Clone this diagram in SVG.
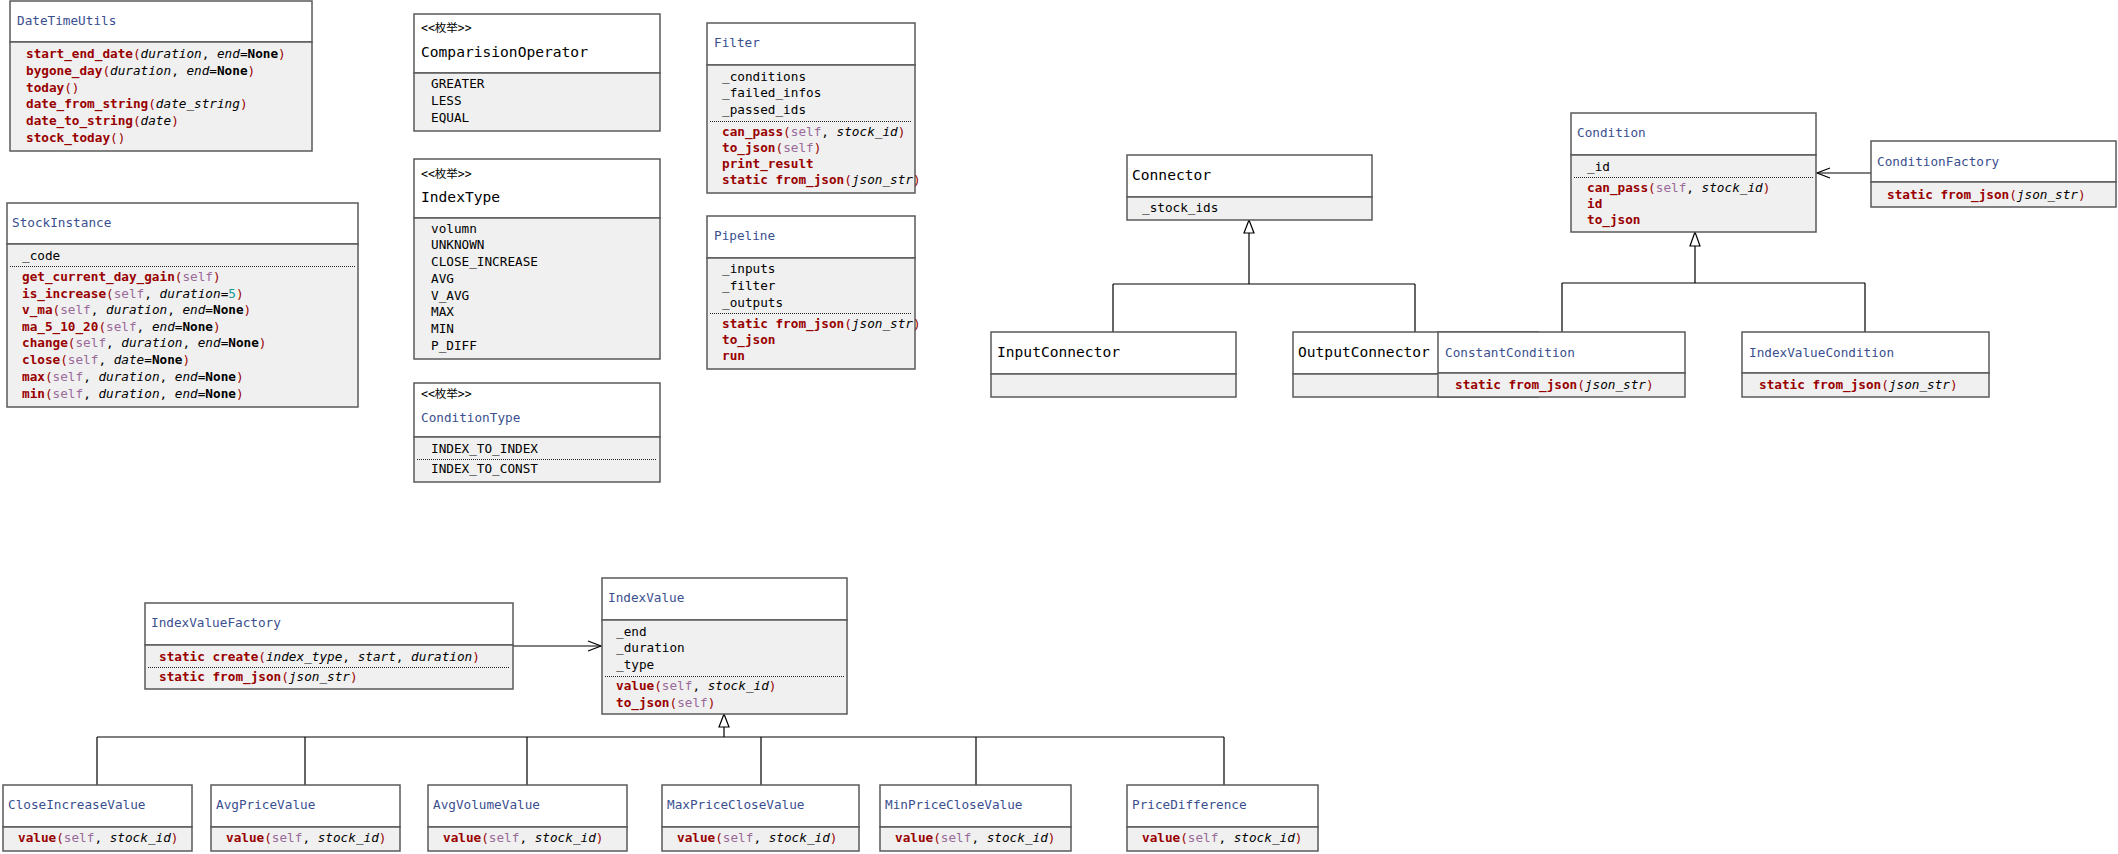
<svg xmlns="http://www.w3.org/2000/svg" width="2118" height="854" viewBox="0 0 2118 854">
<defs>
<style>
.h{fill:#fff;stroke:#5a5a5a;stroke-width:1.5}
.b{fill:#f0f0f0;stroke:#5a5a5a;stroke-width:1.5}
.d{stroke:#222;stroke-width:1;stroke-dasharray:1 1;fill:none}
text{font-family:"DejaVu Sans Mono","Liberation Mono","Noto Sans CJK SC",monospace;font-size:12.7px;fill:#000}
.ti{fill:#3a4f8f}
.tb{font-size:14.6px}
.st{font-size:11.5px}
.m{fill:#990000;font-weight:bold}
.p{fill:#990000}
.s{fill:#9a6a9a}
.i{font-style:italic}
.k{font-weight:bold}
.n{fill:#119999}
.c{fill:none;stroke:#000;stroke-width:1.2}
.tri{fill:#fff;stroke:#000;stroke-width:1.2}
</style>
<marker id="open" markerWidth="16" markerHeight="12" refX="14" refY="6" orient="auto" markerUnits="userSpaceOnUse">
<path d="M1,1 L14,6 L1,11" fill="none" stroke="#000" stroke-width="1.2"/>
</marker>
</defs>
<rect width="2118" height="854" fill="#fff"/>

<g id="connectors">
<path class="c" d="M1249,233 V284 M1113,284 H1415 M1113,284 V332 M1415,284 V332"/>
<path class="tri" d="M1249,220 L1244,233 L1254,233 Z"/>
<path class="c" d="M1695,246 V283 M1562,283 H1865 M1562,283 V332 M1865,283 V332"/>
<path class="tri" d="M1695,232 L1690,246 L1700,246 Z"/>
<path class="c" d="M1871,173 H1817" marker-end="url(#open)"/>
<path class="c" d="M513,646 H601" marker-end="url(#open)"/>
<path class="c" d="M724,727 V737 M97,737 H1224 M97,737 V785 M305,737 V785 M527,737 V785 M761,737 V785 M976,737 V785 M1224,737 V785"/>
<path class="tri" d="M724,714 L719,727 L729,727 Z"/>
</g>

<g id="DateTimeUtils">
<rect class="h" x="10" y="1" width="302" height="41"/>
<rect class="b" x="10" y="42" width="302" height="109"/>
<text class="ti" x="17" y="25">DateTimeUtils</text>
<text x="26" y="58"><tspan class="m">start_end_date</tspan><tspan class="p">(</tspan><tspan class="i">duration</tspan>, <tspan class="i">end</tspan>=<tspan class="k">None</tspan><tspan class="p">)</tspan></text>
<text x="26" y="75"><tspan class="m">bygone_day</tspan><tspan class="p">(</tspan><tspan class="i">duration</tspan>, <tspan class="i">end</tspan>=<tspan class="k">None</tspan><tspan class="p">)</tspan></text>
<text x="26" y="92"><tspan class="m">today</tspan><tspan class="p">()</tspan></text>
<text x="26" y="108"><tspan class="m">date_from_string</tspan><tspan class="p">(</tspan><tspan class="i">date_string</tspan><tspan class="p">)</tspan></text>
<text x="26" y="125"><tspan class="m">date_to_string</tspan><tspan class="p">(</tspan><tspan class="i">date</tspan><tspan class="p">)</tspan></text>
<text x="26" y="142"><tspan class="m">stock_today</tspan><tspan class="p">()</tspan></text>
</g>

<g id="StockInstance">
<rect class="h" x="7" y="203" width="351" height="41"/>
<rect class="b" x="7" y="244" width="351" height="163"/>
<text class="ti" x="12" y="227">StockInstance</text>
<text x="22" y="260">_code</text>
<line class="d" x1="10" y1="266.5" x2="355" y2="266.5"/>
<text x="22" y="281"><tspan class="m">get_current_day_gain</tspan><tspan class="p">(</tspan><tspan class="s">self</tspan><tspan class="p">)</tspan></text>
<text x="22" y="298"><tspan class="m">is_increase</tspan><tspan class="p">(</tspan><tspan class="s">self</tspan>, <tspan class="i">duration</tspan>=<tspan class="n">5</tspan><tspan class="p">)</tspan></text>
<text x="22" y="314"><tspan class="m">v_ma</tspan><tspan class="p">(</tspan><tspan class="s">self</tspan>, <tspan class="i">duration</tspan>, <tspan class="i">end</tspan>=<tspan class="k">None</tspan><tspan class="p">)</tspan></text>
<text x="22" y="331"><tspan class="m">ma_5_10_20</tspan><tspan class="p">(</tspan><tspan class="s">self</tspan>, <tspan class="i">end</tspan>=<tspan class="k">None</tspan><tspan class="p">)</tspan></text>
<text x="22" y="347"><tspan class="m">change</tspan><tspan class="p">(</tspan><tspan class="s">self</tspan>, <tspan class="i">duration</tspan>, <tspan class="i">end</tspan>=<tspan class="k">None</tspan><tspan class="p">)</tspan></text>
<text x="22" y="364"><tspan class="m">close</tspan><tspan class="p">(</tspan><tspan class="s">self</tspan>, <tspan class="i">date</tspan>=<tspan class="k">None</tspan><tspan class="p">)</tspan></text>
<text x="22" y="381"><tspan class="m">max</tspan><tspan class="p">(</tspan><tspan class="s">self</tspan>, <tspan class="i">duration</tspan>, <tspan class="i">end</tspan>=<tspan class="k">None</tspan><tspan class="p">)</tspan></text>
<text x="22" y="398"><tspan class="m">min</tspan><tspan class="p">(</tspan><tspan class="s">self</tspan>, <tspan class="i">duration</tspan>, <tspan class="i">end</tspan>=<tspan class="k">None</tspan><tspan class="p">)</tspan></text>
</g>

<g id="ComparisionOperator">
<rect class="h" x="414" y="14" width="246" height="59"/>
<rect class="b" x="414" y="73" width="246" height="58"/>
<text class="st" x="421" y="32">&lt;&lt;枚举&gt;&gt;</text>
<text class="tb" x="421" y="57">ComparisionOperator</text>
<text x="431" y="88">GREATER</text>
<text x="431" y="105">LESS</text>
<text x="431" y="122">EQUAL</text>
</g>

<g id="IndexType">
<rect class="h" x="414" y="159" width="246" height="59"/>
<rect class="b" x="414" y="218" width="246" height="141"/>
<text class="st" x="421" y="178">&lt;&lt;枚举&gt;&gt;</text>
<text class="tb" x="421" y="202">IndexType</text>
<text x="431" y="233">volumn</text>
<text x="431" y="249">UNKNOWN</text>
<text x="431" y="266">CLOSE_INCREASE</text>
<text x="431" y="283">AVG</text>
<text x="431" y="300">V_AVG</text>
<text x="431" y="316">MAX</text>
<text x="431" y="333">MIN</text>
<text x="431" y="350">P_DIFF</text>
</g>

<g id="ConditionType">
<rect class="h" x="414" y="383" width="246" height="54"/>
<rect class="b" x="414" y="437" width="246" height="45"/>
<text class="st" x="421" y="398">&lt;&lt;枚举&gt;&gt;</text>
<text class="ti" x="421" y="422">ConditionType</text>
<text x="431" y="453">INDEX_TO_INDEX</text>
<line class="d" x1="417" y1="459.5" x2="657" y2="459.5"/>
<text x="431" y="473">INDEX_TO_CONST</text>
</g>

<g id="Filter">
<rect class="h" x="707" y="23" width="208" height="42"/>
<rect class="b" x="707" y="65" width="208" height="128"/>
<text class="ti" x="714" y="47">Filter</text>
<text x="722" y="81">_conditions</text>
<text x="722" y="97">_failed_infos</text>
<text x="722" y="114">_passed_ids</text>
<line class="d" x1="710" y1="121.5" x2="912" y2="121.5"/>
<text x="722" y="136"><tspan class="m">can_pass</tspan><tspan class="p">(</tspan><tspan class="s">self</tspan>, <tspan class="i">stock_id</tspan><tspan class="p">)</tspan></text>
<text x="722" y="152"><tspan class="m">to_json</tspan><tspan class="p">(</tspan><tspan class="s">self</tspan><tspan class="p">)</tspan></text>
<text x="722" y="168"><tspan class="m">print_result</tspan></text>
<text x="722" y="184"><tspan class="m">static from_json</tspan><tspan class="p">(</tspan><tspan class="i">json_str</tspan><tspan class="p">)</tspan></text>
</g>

<g id="Pipeline">
<rect class="h" x="707" y="216" width="208" height="42"/>
<rect class="b" x="707" y="258" width="208" height="111"/>
<text class="ti" x="714" y="240">Pipeline</text>
<text x="722" y="273">_inputs</text>
<text x="722" y="290">_filter</text>
<text x="722" y="307">_outputs</text>
<line class="d" x1="710" y1="313.5" x2="912" y2="313.5"/>
<text x="722" y="328"><tspan class="m">static from_json</tspan><tspan class="p">(</tspan><tspan class="i">json_str</tspan><tspan class="p">)</tspan></text>
<text x="722" y="344"><tspan class="m">to_json</tspan></text>
<text x="722" y="360"><tspan class="m">run</tspan></text>
</g>

<g id="Connector">
<rect class="h" x="1127" y="155" width="245" height="42"/>
<rect class="b" x="1127" y="197" width="245" height="23"/>
<text class="tb" x="1132" y="180">Connector</text>
<text x="1142" y="212">_stock_ids</text>
</g>

<g id="InputConnector">
<rect class="h" x="991" y="332" width="245" height="42"/>
<rect class="b" x="991" y="374" width="245" height="23"/>
<text class="tb" x="997" y="357">InputConnector</text>
</g>

<g id="OutputConnector">
<rect class="h" x="1293" y="332" width="245" height="42"/>
<rect class="b" x="1293" y="374" width="245" height="23"/>
<text class="tb" x="1298" y="357">OutputConnector</text>
</g>

<g id="Condition">
<rect class="h" x="1571" y="113" width="245" height="42"/>
<rect class="b" x="1571" y="155" width="245" height="77"/>
<text class="ti" x="1577" y="137">Condition</text>
<text x="1587" y="171">_id</text>
<line class="d" x1="1574" y1="177.5" x2="1813" y2="177.5"/>
<text x="1587" y="192"><tspan class="m">can_pass</tspan><tspan class="p">(</tspan><tspan class="s">self</tspan>, <tspan class="i">stock_id</tspan><tspan class="p">)</tspan></text>
<text x="1587" y="208"><tspan class="m">id</tspan></text>
<text x="1587" y="224"><tspan class="m">to_json</tspan></text>
</g>

<g id="ConditionFactory">
<rect class="h" x="1871" y="141" width="245" height="41"/>
<rect class="b" x="1871" y="182" width="245" height="25"/>
<text class="ti" x="1877" y="166">ConditionFactory</text>
<text x="1887" y="199"><tspan class="m">static from_json</tspan><tspan class="p">(</tspan><tspan class="i">json_str</tspan><tspan class="p">)</tspan></text>
</g>

<g id="ConstantCondition">
<rect class="h" x="1438" y="332" width="247" height="41"/>
<rect class="b" x="1438" y="373" width="247" height="24"/>
<text class="ti" x="1445" y="357">ConstantCondition</text>
<text x="1455" y="389"><tspan class="m">static from_json</tspan><tspan class="p">(</tspan><tspan class="i">json_str</tspan><tspan class="p">)</tspan></text>
</g>

<g id="IndexValueCondition">
<rect class="h" x="1742" y="332" width="247" height="41"/>
<rect class="b" x="1742" y="373" width="247" height="24"/>
<text class="ti" x="1749" y="357">IndexValueCondition</text>
<text x="1759" y="389"><tspan class="m">static from_json</tspan><tspan class="p">(</tspan><tspan class="i">json_str</tspan><tspan class="p">)</tspan></text>
</g>

<g id="IndexValueFactory">
<rect class="h" x="145" y="603" width="368" height="42"/>
<rect class="b" x="145" y="645" width="368" height="44"/>
<text class="ti" x="151" y="627">IndexValueFactory</text>
<text x="159" y="661"><tspan class="m">static create</tspan><tspan class="p">(</tspan><tspan class="i">index_type</tspan>, <tspan class="i">start</tspan>, <tspan class="i">duration</tspan><tspan class="p">)</tspan></text>
<line class="d" x1="148" y1="667.5" x2="510" y2="667.5"/>
<text x="159" y="681"><tspan class="m">static from_json</tspan><tspan class="p">(</tspan><tspan class="i">json_str</tspan><tspan class="p">)</tspan></text>
</g>

<g id="IndexValue">
<rect class="h" x="602" y="578" width="245" height="42"/>
<rect class="b" x="602" y="620" width="245" height="94"/>
<text class="ti" x="608" y="602">IndexValue</text>
<text x="616" y="636">_end</text>
<text x="616" y="652">_duration</text>
<text x="616" y="669">_type</text>
<line class="d" x1="605" y1="676.5" x2="844" y2="676.5"/>
<text x="616" y="690"><tspan class="m">value</tspan><tspan class="p">(</tspan><tspan class="s">self</tspan>, <tspan class="i">stock_id</tspan><tspan class="p">)</tspan></text>
<text x="616" y="707"><tspan class="m">to_json</tspan><tspan class="p">(</tspan><tspan class="s">self</tspan><tspan class="p">)</tspan></text>
</g>

<g id="CloseIncreaseValue">
<rect class="h" x="3" y="785" width="189" height="42"/>
<rect class="b" x="3" y="827" width="189" height="24"/>
<text class="ti" x="8" y="809">CloseIncreaseValue</text>
<text x="18" y="842"><tspan class="m">value</tspan><tspan class="p">(</tspan><tspan class="s">self</tspan>, <tspan class="i">stock_id</tspan><tspan class="p">)</tspan></text>
</g>

<g id="AvgPriceValue">
<rect class="h" x="211" y="785" width="189" height="42"/>
<rect class="b" x="211" y="827" width="189" height="24"/>
<text class="ti" x="216" y="809">AvgPriceValue</text>
<text x="226" y="842"><tspan class="m">value</tspan><tspan class="p">(</tspan><tspan class="s">self</tspan>, <tspan class="i">stock_id</tspan><tspan class="p">)</tspan></text>
</g>

<g id="AvgVolumeValue">
<rect class="h" x="428" y="785" width="199" height="42"/>
<rect class="b" x="428" y="827" width="199" height="24"/>
<text class="ti" x="433" y="809">AvgVolumeValue</text>
<text x="443" y="842"><tspan class="m">value</tspan><tspan class="p">(</tspan><tspan class="s">self</tspan>, <tspan class="i">stock_id</tspan><tspan class="p">)</tspan></text>
</g>

<g id="MaxPriceCloseValue">
<rect class="h" x="662" y="785" width="197" height="42"/>
<rect class="b" x="662" y="827" width="197" height="24"/>
<text class="ti" x="667" y="809">MaxPriceCloseValue</text>
<text x="677" y="842"><tspan class="m">value</tspan><tspan class="p">(</tspan><tspan class="s">self</tspan>, <tspan class="i">stock_id</tspan><tspan class="p">)</tspan></text>
</g>

<g id="MinPriceCloseValue">
<rect class="h" x="880" y="785" width="191" height="42"/>
<rect class="b" x="880" y="827" width="191" height="24"/>
<text class="ti" x="885" y="809">MinPriceCloseValue</text>
<text x="895" y="842"><tspan class="m">value</tspan><tspan class="p">(</tspan><tspan class="s">self</tspan>, <tspan class="i">stock_id</tspan><tspan class="p">)</tspan></text>
</g>

<g id="PriceDifference">
<rect class="h" x="1127" y="785" width="191" height="42"/>
<rect class="b" x="1127" y="827" width="191" height="24"/>
<text class="ti" x="1132" y="809">PriceDifference</text>
<text x="1142" y="842"><tspan class="m">value</tspan><tspan class="p">(</tspan><tspan class="s">self</tspan>, <tspan class="i">stock_id</tspan><tspan class="p">)</tspan></text>
</g>
</svg>
